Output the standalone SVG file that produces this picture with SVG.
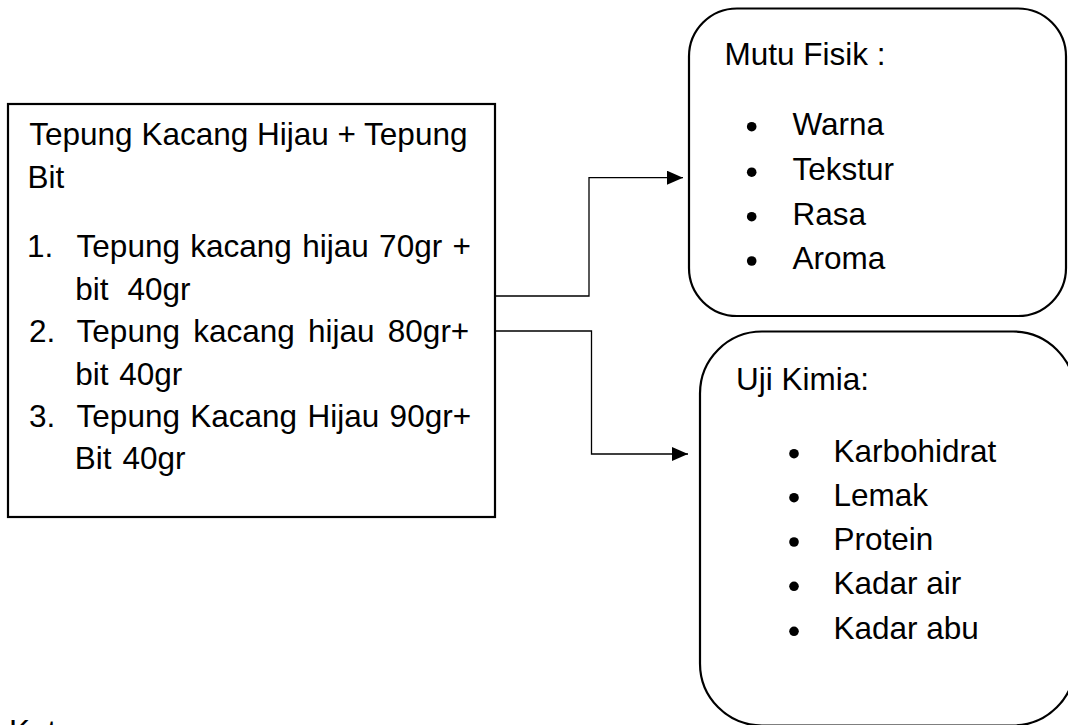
<svg xmlns="http://www.w3.org/2000/svg" width="1068" height="725" viewBox="0 0 1068 725">
<style>
text{font-family:"Liberation Sans",Arial,sans-serif;font-size:31.5px;fill:#000}
.box{fill:#fff;stroke:#000;stroke-width:2.2}
.conn{fill:none;stroke:#000;stroke-width:1.3}
</style>
<defs>
<marker id="arr" markerUnits="userSpaceOnUse" markerWidth="16" markerHeight="14" refX="16" refY="7" orient="auto">
<path d="M0,0 L16,7 L0,14 Z" fill="#000"/>
</marker>
</defs>
<rect width="1068" height="725" fill="#fff"/>
<g id="connectors">
<path class="conn" d="M495,296 H589 V177.7 H683" marker-end="url(#arr)"/>
<path class="conn" d="M495,331 H591.5 V454 H688" marker-end="url(#arr)"/>
</g>
<g id="bahan">
<rect class="box" x="8" y="104" width="487" height="413"/>
<text x="29.3" y="145">Tepung Kacang Hijau + Tepung</text>
<text x="27.5" y="188">Bit</text>
<text y="256.7"><tspan x="27">1.</tspan><tspan x="76.6" word-spacing="1.6">Tepung kacang hijau 70gr +</tspan></text>
<text y="300"><tspan x="75.3">bit</tspan><tspan x="127.5">40gr</tspan></text>
<text y="341.7"><tspan x="29">2.</tspan><tspan x="76.6" word-spacing="4.5">Tepung kacang hijau 80gr+</tspan></text>
<text y="385"><tspan x="75.3">bit</tspan><tspan x="119.2">40gr</tspan></text>
<text y="426.7"><tspan x="29">3.</tspan><tspan x="76.6" word-spacing="1.6">Tepung Kacang Hijau 90gr+</tspan></text>
<text y="469"><tspan x="74.8">Bit</tspan><tspan x="122.5">40gr</tspan></text>
</g>
<g id="mutu-fisik">
<rect class="box" x="689" y="8.5" width="377" height="307.5" rx="48" ry="48"/>
<text x="724.4" y="64.5">Mutu Fisik :</text>
<circle cx="751.7" cy="126.7" r="4.8"/>
<circle cx="751.7" cy="172.2" r="4.8"/>
<circle cx="751.7" cy="216.7" r="4.8"/>
<circle cx="751.7" cy="261" r="4.8"/>
<text x="792.5" y="134.5">Warna</text>
<text x="792.5" y="180">Tekstur</text>
<text x="792.5" y="224.5">Rasa</text>
<text x="792.5" y="269">Aroma</text>
</g>
<g id="uji-kimia">
<rect class="box" x="700" y="331.5" width="375" height="394" rx="62" ry="62"/>
<text x="736" y="390">Uji Kimia:</text>
<circle cx="794" cy="453.7" r="4.8"/>
<circle cx="794" cy="497.7" r="4.8"/>
<circle cx="794" cy="542" r="4.8"/>
<circle cx="794" cy="586.3" r="4.8"/>
<circle cx="794" cy="631.3" r="4.8"/>
<text x="833.5" y="461.7">Karbohidrat</text>
<text x="833.5" y="505.7">Lemak</text>
<text x="833.5" y="550">Protein</text>
<text x="833.5" y="594.3">Kadar air</text>
<text x="833.5" y="639.3">Kadar abu</text>
</g>
<text x="9" y="742">Ket</text>
</svg>
